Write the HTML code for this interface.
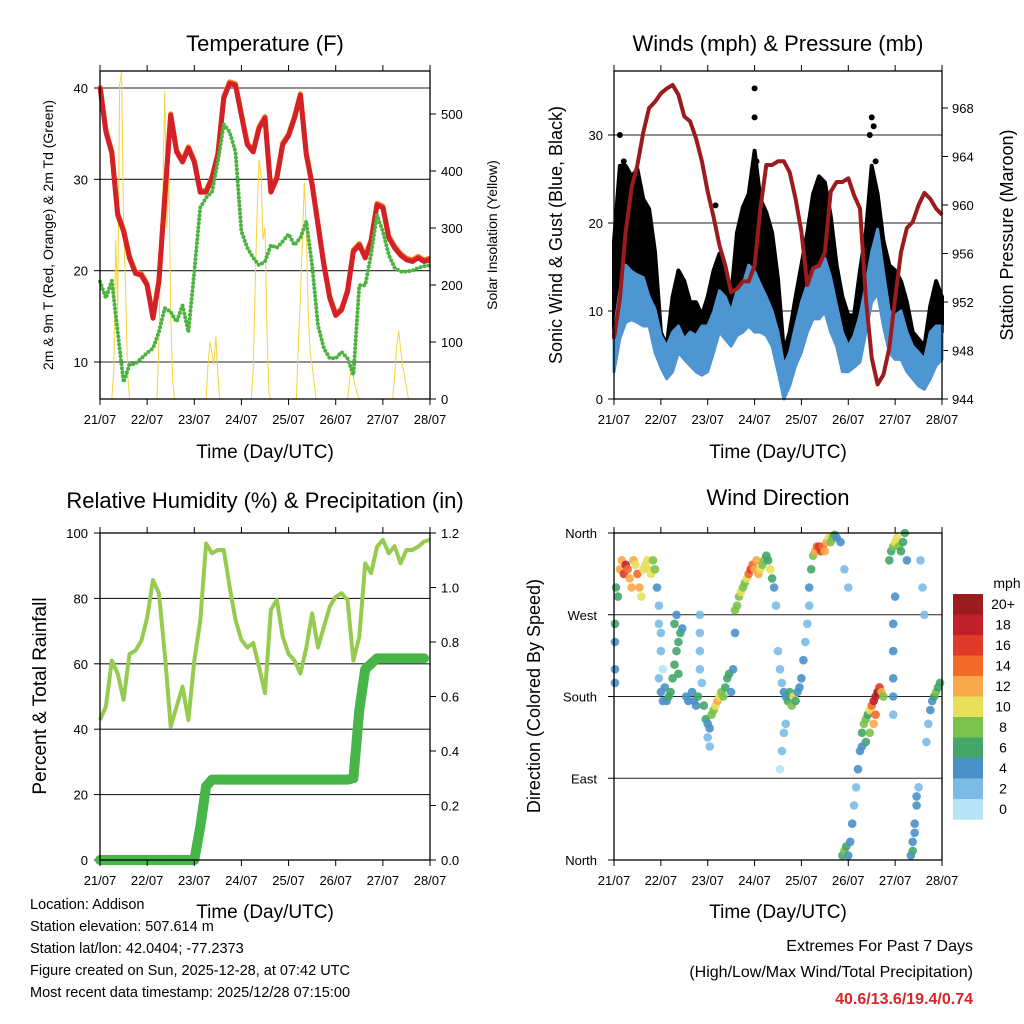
<!DOCTYPE html>
<html><head><meta charset="utf-8"><style>
html,body{margin:0;padding:0;background:#fff}
svg{display:block;font-family:"Liberation Sans",sans-serif}
</style></head><body>
<svg id="c" width="1024" height="1024" viewBox="0 0 1024 1024"></svg>
<script>
// ---- data (3-hourly, t = 0..168 h from 21/07 00 UTC) ----
const dayLabels = ["21/07","22/07","23/07","24/07","25/07","26/07","27/07","28/07"];
const temp = [40.1,35.2,32.9,26.1,24.3,21.4,19.7,19.5,18.4,14.8,18.8,28,37,33,31.9,33.4,31.9,28.6,28.6,30.1,32.7,38.9,40.5,40.3,37,33.8,33,35.6,36.7,28.6,30.1,33.8,34.8,36.7,39.2,32.7,29.4,25,20.6,17,15.1,15.7,17.7,22.1,22.8,21.4,23.2,27.2,26.9,23.6,22.5,21.7,21.2,21,21.4,21,21.2];
const dew = [18.8,17,18.9,13.3,7.8,9.7,9.8,10.4,11,11.5,13.3,15.9,15.5,14.4,16.2,13.3,19.9,26.9,28,28.6,32,36,35.2,33,24.3,22.5,21.4,20.6,21,22.8,22.5,23.2,24,22.8,23.6,25.4,20.6,14,11.5,10.4,10.4,11.1,10.4,8.6,18.4,18.4,21.8,26.1,24.3,21.7,20.3,19.9,19.9,20,20.3,20.5,20.6];
const solarT = [6,7,8,9,10,11,12,13,14,15,29,30,31,32,33,34,35,36,37,38,54,55,56,57,58,59,60,61,77,78,79,80,81,82,83,84,85,86,87,100,101,102,103,104,105,106,107,108,109,110,126,127,128,129,130,131,132,149,150,151,152,153,154,155,156,157];
const solarW = [0,50,280,150,550,575,300,200,50,0,0,100,300,360,540,300,400,150,30,0,0,60,100,80,60,110,40,0,0,50,200,330,420,390,280,300,120,10,0,0,100,180,270,380,300,150,80,60,30,0,0,30,60,40,20,10,0,0,40,90,120,90,60,40,20,0];
const pressure = [949,952.3,957.8,961.4,963.3,966,968,968.5,969.2,969.6,969.9,969.1,967.3,966.9,965.5,963.6,961.1,959,956.7,955,952.8,953.1,953.7,953.7,955,959.7,963.3,963.3,963.6,963.6,962.7,960.5,957.8,953.4,954.8,955,956.1,961.1,961.9,961.9,962.2,960.8,959.7,952.3,947.4,945.2,946,948.2,952.3,956.1,958.1,958.6,960,961,960.5,959.7,959.2];
const windMax = [7.7,12.3,15.2,14.5,14.1,13.8,11.6,10.2,7.2,6,7.6,8.3,6.8,7.6,7.2,8.3,8.3,9.9,12.3,11.6,9.9,12.3,13,15.2,14.5,13,11.6,10,7.6,3.8,5.3,8.3,11,13,14.5,15.2,16,13.8,10.6,7.6,6,7.2,9.5,13,16.7,19.3,14.5,10,9.5,10,7.6,6,5.3,4.5,7.6,8.3,8.3];
const windMin = [3.1,6.9,8.7,9,8.7,8.3,8.3,5.3,3.6,2.3,3.1,5.3,4.5,3.8,3.1,2.7,3.1,5.3,7.6,6.8,6,7.2,7.6,8.3,7.6,7.6,7.2,6,3.1,0,1.5,3.8,5.3,7.6,9.1,9.1,9.9,7.6,6,3.1,3.1,3.6,4.2,7.6,11,12,8.3,5.3,4.5,4.5,3.1,2.3,1.5,1.1,2.3,3.8,4.5];
const gustMax = [17.9,26.5,26.5,25.3,26.1,22.7,21.6,16.7,7.6,6,11.6,14.6,13.4,11,11,9.5,11.6,14.6,16.5,14.6,11.6,18.9,21.8,23.3,28.2,22.7,21.2,18.9,13.6,5.3,7.6,11.6,15.2,18.9,23.3,25.3,24.6,20.8,15.2,11.6,9.5,9.5,14.6,18.9,26.5,23.3,18,15.2,14.6,13.4,11,7.6,6.8,6,10.6,13.4,11.6];
const gustMin = [6.9,11.6,13.4,13.1,11.6,11,11,9.5,3.8,3,6,7.6,6.8,6.4,6,5.3,6,9.5,10.2,8.7,6.4,9.5,11,11.6,13.4,11.6,11,9.5,6,0.8,3.8,5.3,7.7,11,13.4,13.4,13.1,11.6,9.5,6.8,6,5.7,7.6,11.6,16.7,13.8,11,9.5,8.7,7.2,6,4.9,4.2,3.8,5.7,7.2,7.6];
const spikeT = [3,5,8,18,36,52,72,72,73,131,132,133,134];
const spikeG = [30,27,25,20,10,22,35.3,32,27,30,32,31,27];
const rh = [42.8,46.9,61,57,49,63,64,67,74,85.6,81.6,63,40.8,46.9,53,42.8,61,73,96.8,93.8,94.8,94.8,83.6,73.4,67.3,65,66.4,59,51,76.5,79.5,68.3,63,61,57,65,75.4,65,71.3,77.5,80.5,81.6,79.5,61,68.3,90.7,87.7,95.8,97.9,93.8,96,90.7,94.8,94.8,95.8,97.4,97.9];
const precip = [0,0,0,0,0,0,0,0,0,0,0,0,0,0,0,0,0,0.12,0.27,0.295,0.295,0.295,0.295,0.295,0.295,0.295,0.295,0.295,0.295,0.295,0.295,0.295,0.295,0.295,0.295,0.295,0.295,0.295,0.295,0.295,0.295,0.295,0.295,0.30,0.55,0.70,0.72,0.74,0.74,0.74,0.74,0.74,0.74,0.74,0.74,0.74];
const dirT = [0.5,0.5,0.5,0.5,1,2,3,4,5,6,7,8,9,10,11,12,13,14,15,16,17,18,19,20,21,22,23,23,24,24,25,23,24,25,26,27,28,29,30,31,32,33,34,35,31,32,33,44,44,44,44,45,37,38,40,41,42,43,46,47,48,49,50,51,52,53,54,55,56,48,49,57,58,59,60,61,62,62,63,64,65,66,67,68,69,70,71,72,73,74,75,76,77,78,79,80,81,82,83,84,85,86,87,88,89,90,91,92,93,94,95,96,97,98,99,100,87,86,85,88,100,101,102,103,104,105,106,107,108,109,110,111,112,113,114,116,118,120,117,118,119,120,121,122,123,124,125,126,127,128,129,130,131,132,133,134,135,136,137,138,134,133,131,129,127,141,142,143,144,145,146,147,148,149,150,143,143,143,143,143,144,152,153,154,155,156,155,154,153,157,158,159,160,161,162,163,164,165,166,167];
const dirDeg = [260,240,210,195,300,290,320,330,315,325,320,310,300,330,325,315,300,290,320,325,330,320,315,330,320,300,280,260,250,230,210,200,185,175,190,175,180,185,200,215,230,240,250,255,260,270,205,270,250,230,210,195,180,175,185,175,170,180,170,155,150,145,160,165,170,175,180,185,180,135,125,190,200,205,185,210,250,275,280,290,295,300,305,310,315,320,325,320,330,315,320,325,330,335,330,320,310,300,280,230,210,195,185,180,175,185,170,180,175,185,190,200,220,240,260,280,140,120,100,150,300,320,335,340,345,345,340,345,340,350,355,350,355,358,355,350,320,300,5,10,15,5,20,40,60,80,100,120,140,150,155,160,165,170,175,180,185,190,185,180,160,150,140,130,125,330,340,345,350,355,345,340,350,360,330,260,230,200,180,160,290,5,20,40,60,80,70,30,10,330,300,270,130,150,165,175,180,185,190,195];
const dirSpd = [6,4,4,4,6,6,12,12,16,18,14,12,12,12,10,14,12,10,10,10,10,10,10,8,8,4,2,2,2,2,0,2,4,4,4,4,6,6,6,6,6,6,6,4,6,4,6,2,2,2,2,2,4,4,4,4,4,6,6,6,4,4,8,8,10,12,10,8,8,2,2,6,6,6,4,4,4,8,8,8,10,8,8,10,14,16,14,12,12,12,10,8,8,6,6,10,6,4,2,2,2,2,4,4,6,6,8,10,6,4,4,4,4,2,2,2,2,2,0,2,4,6,8,12,14,16,16,14,12,12,10,8,8,6,4,4,2,2,6,8,6,4,4,4,2,2,4,4,6,8,8,6,10,14,18,18,20,16,12,8,14,12,8,6,4,6,6,8,10,10,8,6,6,6,4,4,4,4,4,2,4,4,4,4,4,2,4,4,6,2,2,2,2,2,4,4,6,8,6,6];
const legendLabels = ["20+","18","16","14","12","10","8","6","4","2","0"];
const legendColors = ["#9b1b1e","#c0202a","#e03a2a","#f26a2a","#f9a84a","#e8e05a","#7bc24a","#44a56a","#4a90c8","#7bbbe6","#b8e4f8"];

// ---- helpers ----
const svg = document.getElementById('c');
const NS = 'http://www.w3.org/2000/svg';
function mk(tag, attrs, name, parent) {
  const el = document.createElementNS(NS, tag);
  for (const k in attrs) el.setAttribute(k, attrs[k]);
  
  
  (parent || svg).appendChild(el);
  return el;
}
function txt(x, y, s, size, anchor, name, extra) {
  const a = Object.assign({x: x, y: y, 'font-size': size, 'text-anchor': anchor || 'middle', fill: '#000'}, extra || {});
  const el = mk('text', a, name);
  el.textContent = s;
  return el;
}
function vtxt(x, y, s, size, name) {
  return txt(x, y, s, size, 'middle', name, {transform: 'rotate(-90 ' + x + ' ' + y + ')'});
}
const tIdx = i => i * 3;
function path(arr, fx, fy) {
  return arr.map((v, i) => (i ? 'L' : 'M') + fx(tIdx(i)).toFixed(1) + ',' + fy(v).toFixed(1)).join('');
}
function band(maxA, minA, fx, fy) {
  let d = maxA.map((v, i) => (i ? 'L' : 'M') + fx(tIdx(i)).toFixed(1) + ',' + fy(v).toFixed(1)).join('');
  for (let i = minA.length - 1; i >= 0; i--) d += 'L' + fx(tIdx(i)).toFixed(1) + ',' + fy(minA[i]).toFixed(1);
  return d + 'Z';
}
function frame(x0, y0, x1, y1, name) {
  mk('rect', {x: x0, y: y0, width: x1 - x0, height: y1 - y0, fill: 'none', stroke: '#000', 'stroke-width': 1.3}, name);
}
function xAxis(x0, x1, yTop, yBot, labY, pfx) {
  for (let d = 0; d < 8; d++) {
    const x = x0 + d * (x1 - x0) / 7;
    mk('line', {x1: x, y1: yBot, x2: x, y2: yBot + 6, stroke: '#000', 'stroke-width': 1}, pfx + '-x-tick');
    mk('line', {x1: x, y1: yTop, x2: x, y2: yTop - 6, stroke: '#000', 'stroke-width': 1}, pfx + '-x-tick-top');
    txt(x, labY, dayLabels[d], 13, 'middle', pfx + '-x-tick-label');
  }
}
function grid(x0, x1, y, name) {
  mk('line', {x1: x0, y1: y, x2: x1, y2: y, stroke: '#222', 'stroke-width': 1.1}, name);
}

// ===== Panel 1: Temperature =====
const X1 = t => 100 + t * 330 / 168;
const YT = v => 362 - (v - 10) * 9.133;
const YS = w => 399 - w * 0.57;
txt(265, 51, 'Temperature (F)', 22, 'middle', 'temperature-title');
[10, 20, 30, 40].forEach(v => {
  grid(100, 430, YT(v), 'temp-gridline');
  mk('line', {x1: 94, y1: YT(v), x2: 100, y2: YT(v), stroke: '#000'}, 'temp-y-tick');
  txt(88, YT(v) + 5, String(v), 13, 'end', 'temp-y-tick-label');
});
[0, 100, 200, 300, 400, 500].forEach(v => {
  mk('line', {x1: 430, y1: YS(v), x2: 436, y2: YS(v), stroke: '#000'}, 'solar-y-tick');
  txt(441, YS(v) + 5, String(v), 13, 'start', 'solar-y-tick-label');
});
mk('path', {d: solarT.map((t, i) => (i ? 'L' : 'M') + X1(t).toFixed(1) + ',' + YS(solarW[i]).toFixed(1)).join(''), fill: 'none', stroke: '#f8d33a', 'stroke-width': 1}, 'solar-insolation-line');
mk('path', {d: path(temp, X1, v => YT(v) - 1.5), fill: 'none', stroke: '#f47c20', 'stroke-width': 5, 'stroke-linejoin': 'round'}, 'temp-9m-line');
mk('path', {d: path(temp, X1, YT), fill: 'none', stroke: '#d42027', 'stroke-width': 5, 'stroke-linejoin': 'round'}, 'temp-2m-line');
mk('path', {d: path(dew, X1, YT), fill: 'none', stroke: '#4bb33f', 'stroke-width': 4, 'stroke-dasharray': '0 4', 'stroke-linecap': 'round'}, 'dewpoint-line');
frame(100, 71, 430, 399, 'temperature-plot-frame');
xAxis(100, 430, 71, 399, 424, 'temp');
txt(265, 458, 'Time (Day/UTC)', 19, 'middle', 'temp-x-axis-title');
vtxt(53, 235, '2m & 9m T (Red, Orange) & 2m Td (Green)', 14, 'temp-y-axis-title');
vtxt(497, 235, 'Solar Insolation (Yellow)', 14, 'solar-y-axis-title');

// ===== Panel 2: Winds & Pressure =====
const X2 = t => 614 + t * 328 / 168;
const YW = v => 399 - v * 8.8;
const YP = p => 399 - (p - 944) * 12.125;
txt(778, 51, 'Winds (mph) & Pressure (mb)', 22, 'middle', 'winds-title');
[10, 20, 30].forEach(v => grid(614, 942, YW(v), 'wind-gridline'));
[0, 10, 20, 30].forEach(v => {
  mk('line', {x1: 608, y1: YW(v), x2: 614, y2: YW(v), stroke: '#000'}, 'wind-y-tick');
  txt(603, YW(v) + 5, String(v), 13, 'end', 'wind-y-tick-label');
});
[944, 948, 952, 956, 960, 964, 968].forEach(v => {
  mk('line', {x1: 942, y1: YP(v), x2: 948, y2: YP(v), stroke: '#000'}, 'pressure-y-tick');
  txt(952, YP(v) + 5, String(v), 13, 'start', 'pressure-y-tick-label');
});
mk('path', {d: band(gustMax, gustMin, X2, YW), fill: '#000', stroke: '#000', 'stroke-width': 4, 'stroke-linejoin': 'round'}, 'gust-points-band');
spikeT.forEach((t, i) => {
  mk('circle', {cx: X2(t), cy: YW(spikeG[i]), r: 3, fill: '#000'}, 'gust-point');
});
mk('path', {d: band(windMax, windMin, X2, YW), fill: '#4d96d2', stroke: '#4d96d2', 'stroke-width': 3, 'stroke-linejoin': 'round'}, 'sonic-wind-band');
mk('path', {d: path(pressure, X2, YP), fill: 'none', stroke: '#9b1b1e', 'stroke-width': 4, 'stroke-linejoin': 'round'}, 'pressure-line');
frame(614, 71, 942, 399, 'winds-plot-frame');
xAxis(614, 942, 71, 399, 424, 'wind');
txt(778, 458, 'Time (Day/UTC)', 19, 'middle', 'wind-x-axis-title');
vtxt(562, 235, 'Sonic Wind & Gust (Blue, Black)', 18, 'wind-y-axis-title');
vtxt(1013, 235, 'Station Pressure (Maroon)', 18, 'pressure-y-axis-title');

// ===== Panel 3: RH & Precip =====
const X3 = X1;
const YR = v => 860 - v * 3.27;
const YPr = v => 860 - v / 1.2 * 327;
txt(265, 508, 'Relative Humidity (%) & Precipitation (in)', 22, 'middle', 'humidity-title');
[20, 40, 60, 80].forEach(v => grid(100, 430, YR(v), 'rh-gridline'));
[0, 20, 40, 60, 80, 100].forEach(v => {
  mk('line', {x1: 94, y1: YR(v), x2: 100, y2: YR(v), stroke: '#000'}, 'rh-y-tick');
  txt(88, YR(v) + 5, String(v), 13, 'end', 'rh-y-tick-label');
});
[0, 0.2, 0.4, 0.6, 0.8, 1.0, 1.2].forEach(v => {
  mk('line', {x1: 430, y1: YPr(v), x2: 436, y2: YPr(v), stroke: '#000'}, 'precip-y-tick');
  txt(441, YPr(v) + 5, v.toFixed(1), 13, 'start', 'precip-y-tick-label');
});
mk('path', {d: path(rh, X3, YR), fill: 'none', stroke: '#95cc50', 'stroke-width': 4, 'stroke-linejoin': 'round'}, 'rh-line');
mk('path', {d: path(precip, X3, YPr), fill: 'none', stroke: '#48b548', 'stroke-width': 10, 'stroke-linejoin': 'round', 'stroke-linecap': 'round'}, 'precip-line');
frame(100, 533, 430, 860, 'humidity-plot-frame');
xAxis(100, 430, 533, 860, 885, 'rh');
txt(265, 918, 'Time (Day/UTC)', 19, 'middle', 'rh-x-axis-title');
vtxt(46, 696, 'Percent & Total Rainfall', 19, 'rh-y-axis-title');

// ===== Panel 4: Wind Direction =====
const X4 = X2;
const YD = d => 860 - d / 360 * 327;
txt(778, 505, 'Wind Direction', 22, 'middle', 'wind-direction-title');
[90, 180, 270].forEach(v => grid(614, 942, YD(v), 'dir-gridline'));
['North', 'East', 'South', 'West', 'North'].forEach((s, i) => {
  const y = YD(i * 90);
  mk('line', {x1: 608, y1: y, x2: 614, y2: y, stroke: '#000'}, 'dir-y-tick');
  txt(597, y + 5, s, 13, 'end', 'dir-y-tick-label');
});
const bin = s => Math.max(0, Math.min(10, Math.round(s / 2)));
dirT.forEach((t, i) => {
  const c = legendColors[10 - bin(dirSpd[i])];
  mk('circle', {cx: X4(t).toFixed(1), cy: YD(dirDeg[i]).toFixed(1), r: 4.3, fill: c, 'fill-opacity': 0.9}, 'wind-direction-point');
});
frame(614, 533, 942, 860, 'direction-plot-frame');
xAxis(614, 942, 533, 860, 885, 'dir');
txt(778, 918, 'Time (Day/UTC)', 19, 'middle', 'dir-x-axis-title');
vtxt(540, 696, 'Direction (Colored By Speed)', 18, 'dir-y-axis-title');
txt(1007, 588, 'mph', 14, 'middle', 'legend-title');
legendLabels.forEach((s, i) => {
  mk('rect', {x: 953, y: 594 + i * 20.5, width: 30, height: 20.7, fill: legendColors[i]}, 'legend-swatch');
  txt(1003, 594 + i * 20.5 + 15, s, 14, 'middle', 'legend-label');
});

// ===== Footer =====
['Location: Addison', 'Station elevation: 507.614 m', 'Station lat/lon: 42.0404; -77.2373',
 'Figure created on Sun, 2025-12-28, at 07:42 UTC', 'Most recent data timestamp: 2025/12/28 07:15:00'].forEach((s, i) => {
  txt(30, 909 + i * 22, s, 14.5, 'start', 'station-info-line');
});
txt(973, 951, 'Extremes For Past 7 Days', 16, 'end', 'extremes-title');
txt(973, 977, '(High/Low/Max Wind/Total Precipitation)', 16, 'end', 'extremes-subtitle');
txt(973, 1004, '40.6/13.6/19.4/0.74', 16, 'end', 'extremes-values', {fill: '#d62728', 'font-weight': 'bold'});
</script>
</body></html>
